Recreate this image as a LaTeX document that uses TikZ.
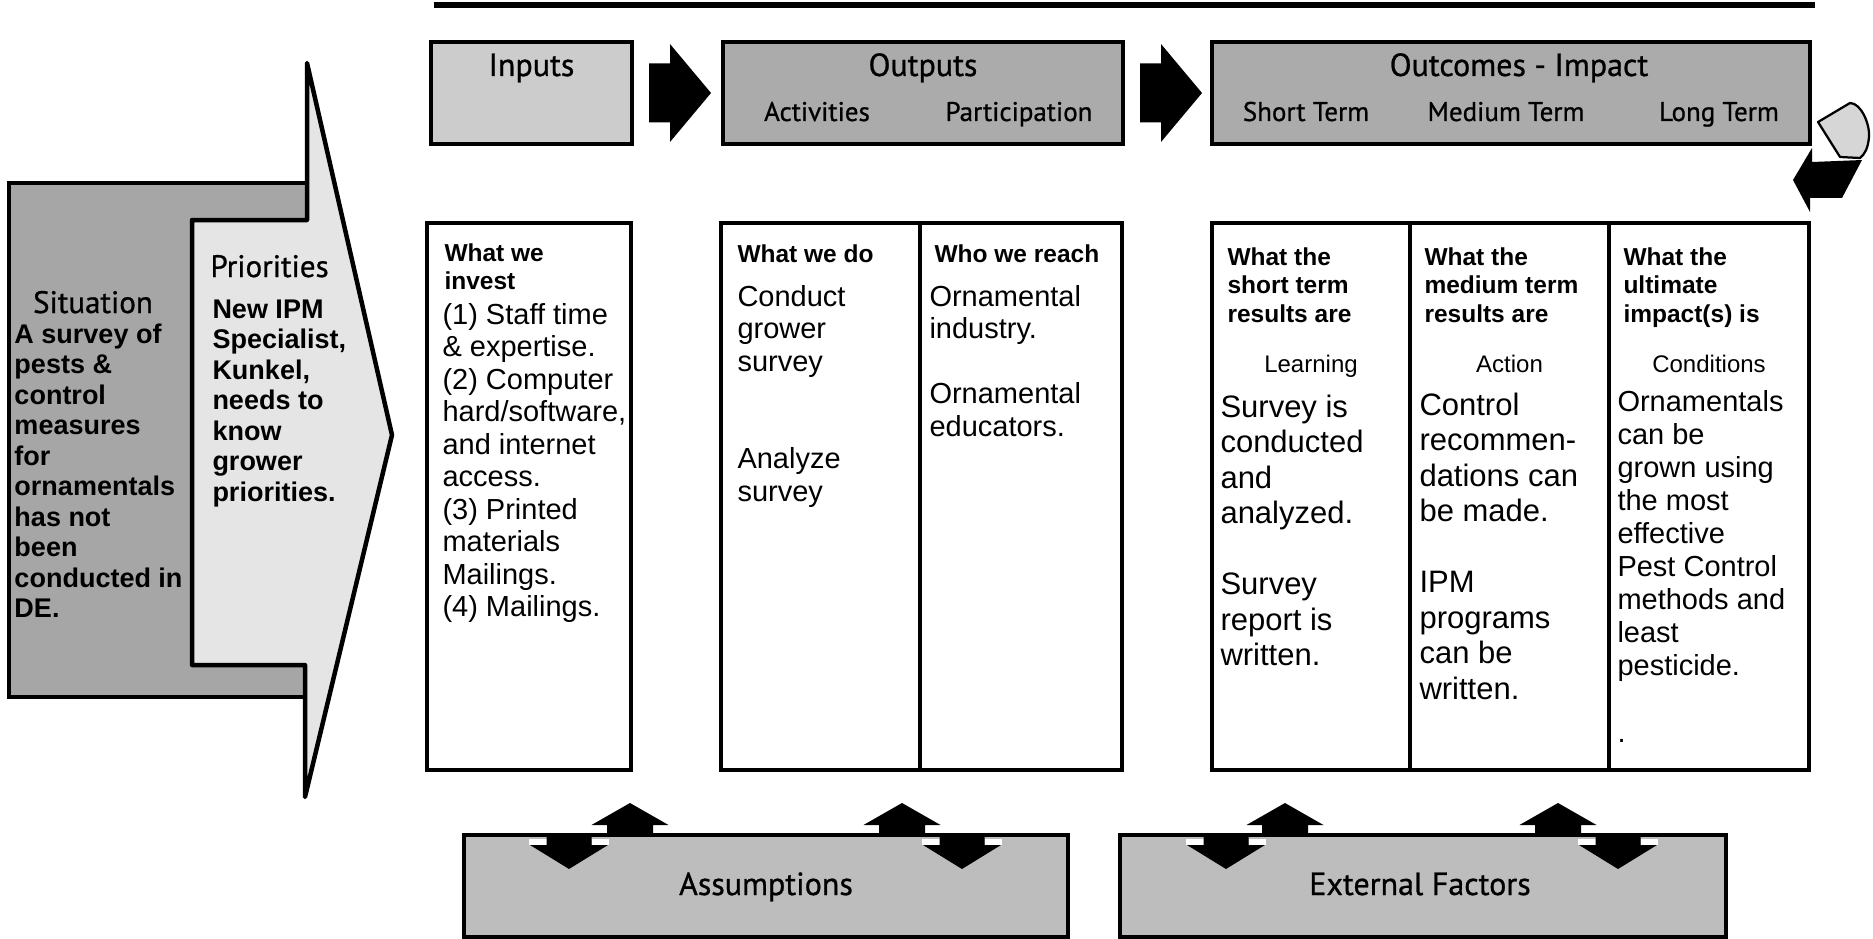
\documentclass[tikz,border=0pt]{standalone}
\usepackage{fontspec}
\setmainfont{Liberation Sans}
\newfontfamily\hdr[FakeBold=0.8]{PT Sans}
\usetikzlibrary{calc}
\definecolor{gIn}{gray}{0.80}
\definecolor{gOut}{gray}{0.67}
\definecolor{gSit}{gray}{0.65}
\definecolor{gPri}{gray}{0.90}
\definecolor{gBot}{gray}{0.74}
\definecolor{gCurl}{gray}{0.84}
\newcommand{\setfs}[2]{\fontsize{#1}{#2}\selectfont}
\begin{document}
\begin{tikzpicture}[x=0.4pt,y=-0.4pt,
  hbox/.style={draw,line width=1.6pt,inner sep=0pt,outer sep=0pt,minimum height=40.8pt},
  dbox/.style={draw,line width=1.3pt,fill=white,inner sep=0pt,outer sep=0pt,minimum height=218.8pt},
  bbox/.style={draw,line width=1.6pt,fill=gBot,inner sep=0pt,outer sep=0pt,minimum height=40.8pt},
  lbl/.style={font=\hdr\setfs{12.8}{15},inner sep=0pt,anchor=base},
  sublbl/.style={font=\hdr\setfs{10.8}{13},inner sep=0pt,anchor=base},
  bh/.style={font=\bfseries\setfs{9.8}{11.4},align=left,inner sep=0pt,anchor=base west},
  cat/.style={font=\setfs{9.6}{11},inner sep=0pt,anchor=base},
  bodyA/.style={font=\setfs{11.6}{13},align=left,inner sep=0pt,anchor=base west},
  bodyB/.style={font=\setfs{12.4}{14.2},align=left,inner sep=0pt,anchor=base west},
  bodyC/.style={font=\setfs{11.6}{13.24},align=left,inner sep=0pt,anchor=base west},
  sitb/.style={font=\bfseries\setfs{10.8}{12.2},align=left,inner sep=0pt,anchor=base west},
  rarrow/.pic={\fill[black] (0,-29.5) -- (21,-29.5) -- (21,-49) -- (62,0) -- (21,49) -- (21,29.5) -- (0,29.5) -- cycle;},
  uparr/.pic={\fill[black] (-23,1) -- (-23,-10) -- (-38.5,-10) -- (0,-32) -- (38.5,-10) -- (23,-10) -- (23,1) -- cycle;},
  downarr/.pic={\fill[white] (-40,4) rectangle (-22.5,9.5); \fill[white] (22.5,4) rectangle (40,9.5);
    \fill[black] (-22.5,-1) -- (-22.5,10) -- (-39,10) -- (0,34) -- (39,10) -- (22.5,10) -- (22.5,-1) -- cycle;}
]
\useasboundingbox (0,0) rectangle (1873,939);

% title rule
\coordinate (ruleL) at (434,5);
\coordinate (ruleR) at (1815,5);
\draw[line width=2.4pt] (ruleL) -- (ruleR);

% situation and priorities
\draw[line width=1.8pt,fill=gSit] (9,183) rectangle (307,697);
\draw[line width=1.8pt,fill=gPri,line join=round] (192,220) -- (307,220) -- (307,63) -- (392,435) -- (305,797) -- (305,665) -- (192,665) -- cycle;
\node[lbl,font=\hdr\setfs{12.4}{14}] (sitL) at (93,313) {Situation};
% anchors below are at the baseline of the LAST line of each block
\node[sitb] (sitT) at (14,617.5) {A survey of\\pests \&\\control\\measures\\for\\ornamentals\\has not\\been\\conducted in\\DE.};
\node[lbl,anchor=base west,font=\hdr\setfs{12.4}{14}] (priL) at (210,277) {Priorities};
\node[sitb] (priT) at (212,501) {New IPM\\Specialist,\\Kunkel,\\needs to\\know\\grower\\priorities.};

% header boxes
\node[hbox,fill=gIn,minimum width=80.4pt] (inputs) at (531.5,93) {};
\node[hbox,fill=gOut,minimum width=160pt] (outputs) at (923,93) {};
\node[hbox,fill=gOut,minimum width=239.2pt] (outcomes) at (1511,93) {};
\node[lbl] (inputsL) at (531.5,76) {Inputs};
\node[lbl] (outputsL) at (923,76) {Outputs};
\node[sublbl] (actL) at (817,121) {Activities};
\node[sublbl] (partL) at (1019,121) {Participation};
\node[lbl] (outcomesL) at (1519,76) {Outcomes - Impact};
\node[sublbl] (stL) at (1306,121) {Short Term};
\node[sublbl] (mtL) at (1506,121) {Medium Term};
\node[sublbl] (ltL) at (1719,121) {Long Term};

\pic at ($(inputs.east)+(17,0)$) {rarrow};
\pic at ($(outputs.east)+(17,0)$) {rarrow};

% curled arrow at right
\draw[line width=0.9pt,fill=gCurl,line join=round] (1818,122) -- (1850,103) .. controls (1861,103) and (1870,124) .. (1869,137) .. controls (1868,148) and (1865,154) .. (1860,158) -- (1840,157) -- cycle;
\fill[black] (1812,148) -- (1793,180) -- (1810,212) -- (1810,198) -- (1842,198) -- (1862,160) -- (1812,162) -- cycle;

% detail boxes
\node[dbox,minimum width=81.6pt] (inD) at (529,496.5) {};
\node[dbox,minimum width=79.6pt] (actD) at (820.5,496.5) {};
\node[dbox,minimum width=80.8pt] (partD) at (1021,496.5) {};
\node[dbox,minimum width=79.2pt] (stD) at (1311,496.5) {};
\node[dbox,minimum width=79.6pt] (mtD) at (1509.5,496.5) {};
\node[dbox,minimum width=80pt] (ltD) at (1709,496.5) {};

\node[bh] (inH) at (444,289.5) {What we\\invest};
\node[bodyA] (inT) at (442,616.5) {(1) Staff time\\\& expertise.\\(2) Computer\\hard/software,\\and internet\\access.\\(3) Printed\\materials\\Mailings.\\(4) Mailings.};
\node[bh] (actH) at (737,262) {What we do};
\node[bodyA] (actT) at (737,501) {Conduct\\grower\\survey\\\mbox{}\\\mbox{}\\Analyze\\survey};
\node[bh] (partH) at (934,262) {Who we reach};
\node[bodyA] (partT) at (929,436) {Ornamental\\industry.\\\mbox{}\\Ornamental\\educators.};

\node[bh] (stH) at (1227,322) {What the\\short term\\results are};
\node[cat] (stC) at (1311,372) {Learning};
\node[bodyB] (stT) at (1220,665.5) {Survey is\\conducted\\and\\analyzed.\\\mbox{}\\Survey\\report is\\written.};
\node[bh] (mtH) at (1424,322) {What the\\medium term\\results are};
\node[cat] (mtC) at (1509.5,372) {Action};
\node[bodyB] (mtT) at (1419,699) {Control\\recommen-\\dations can\\be made.\\\mbox{}\\IPM\\programs\\can be\\written.};
\node[bh] (ltH) at (1623,322) {What the\\ultimate\\impact(s) is};
\node[cat] (ltC) at (1709,372) {Conditions};
\node[bodyC] (ltT) at (1617,742) {Ornamentals\\can be\\grown using\\the most\\effective\\Pest Control\\methods and\\least\\pesticide.\\\mbox{}\\.};

% bottom boxes
\node[bbox,minimum width=241.6pt] (assume) at (766,886) {};
\node[bbox,minimum width=242.4pt] (external) at (1423,886) {};
\node[lbl] (assumeL) at (766,895) {Assumptions};
\node[lbl] (externalL) at (1420,895) {External Factors};

\pic at ($(assume.north west)+(105,0)$) {downarr};
\pic at ($(assume.north west)+(166,0)$) {uparr};
\pic at ($(assume.north east)+(-166,0)$) {uparr};
\pic at ($(assume.north east)+(-106,0)$) {downarr};
\pic at ($(external.north west)+(106,0)$) {downarr};
\pic at ($(external.north west)+(165,0)$) {uparr};
\pic at ($(external.north east)+(-168,0)$) {uparr};
\pic at ($(external.north east)+(-108,0)$) {downarr};
\end{tikzpicture}
\end{document}
